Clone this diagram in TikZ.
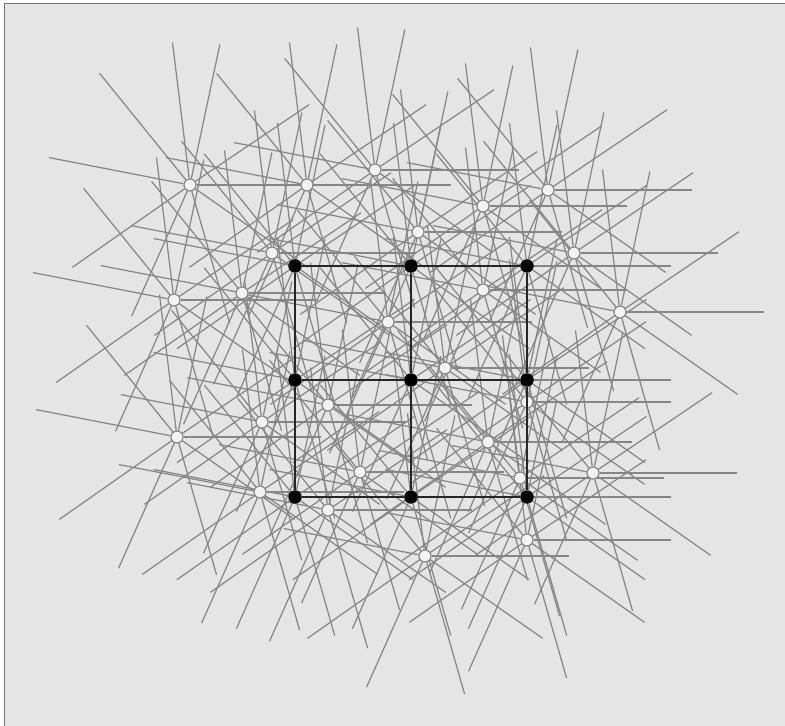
\documentclass[tikz,border=0pt]{standalone}
\usetikzlibrary{backgrounds}
\definecolor{paper}{RGB}{229,229,229}
\definecolor{rim}{RGB}{118,118,118}
\definecolor{raygray}{RGB}{134,134,134}
\tikzset{
  hub/.style={circle, draw=raygray, fill=white!55!paper, line width=0.7pt, minimum size=0.24cm, inner sep=0pt},
  knot/.style={circle, fill=black, minimum size=0.27cm, inner sep=0pt},
  ray/.style={raygray, line width=0.7pt},
  bar/.style={black!85, line width=1.4pt}
}
\begin{document}
\begin{tikzpicture}[x=0.02cm, y=-0.02cm]
  \useasboundingbox (0,0) rectangle (785,726);

  % Frame
  \begin{scope}[on background layer]
    \fill[paper] (4.5,3.5) rectangle (790,730);
    \draw[rim, line width=1pt] (4.5,730) -- (4.5,3.5) -- (790,3.5);
  \end{scope}

  % Hubs
  \foreach \x/\y [count=\n] in {190/185, 307/185, 375/170, 483/206, 548/190,
      418/232, 272/253, 574/253, 174/300, 242/293, 483/290, 388/322, 620/312,
      445/368, 328/405, 262/422, 177/437, 488/442, 593/473, 360/472, 520/478,
      328/510, 425/556, 527/540, 260/492, 527/402}
    \node[hub] (w\n) at (\x,\y) {};

  % Square grid
  \foreach \x [count=\i] in {295,411,527}
    \foreach \y [count=\j] in {266,380,497}
      \node[knot] (g\i\j) at (\x,\y) {};

  % Rays of every node, same ten directions
  \begin{scope}[on background layer]
    \foreach \n in {1,...,26}
      \foreach \t in {0,34,78,97,129,169,215,246,286,325}
        \draw[ray] (w\n.\t) -- ++(-\t:137);
    \foreach \n in {11,12,13,21,22,23,31,32,33}
      \foreach \t in {0,34,78,97,129,169,215,246,286,325}
        \draw[ray] (g\n.\t) -- ++(-\t:137);
  \end{scope}

  \foreach \k in {1,2,3} {
    \draw[bar] (g1\k) -- (g2\k) -- (g3\k);
    \draw[bar] (g\k1) -- (g\k2) -- (g\k3);
  }
\end{tikzpicture}
\end{document}
